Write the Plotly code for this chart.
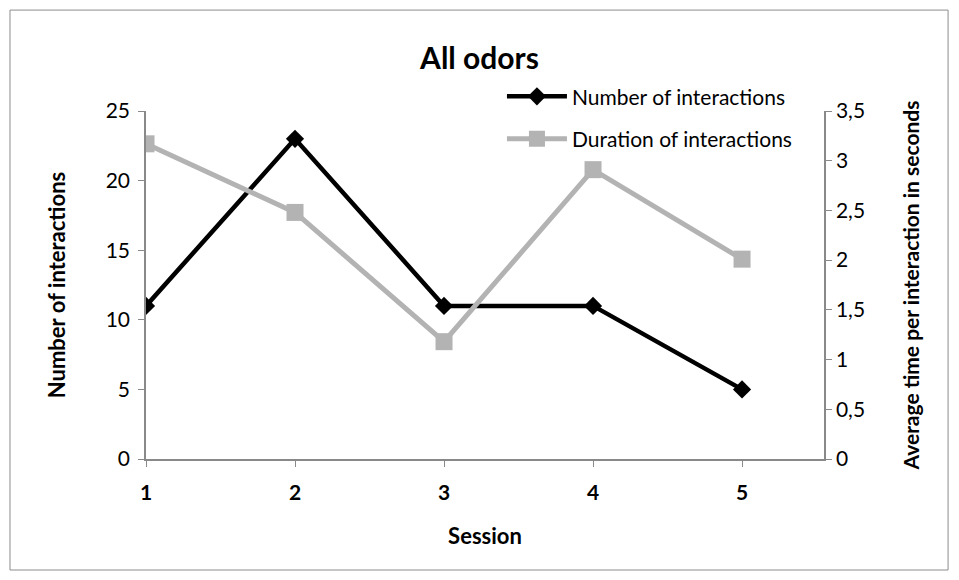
import plotly.graph_objects as go

sessions = [1, 2, 3, 4, 5]
num_interactions = [11, 23, 11, 11, 5]
duration_interactions = [3.17, 2.48, 1.18, 2.91, 2.01]
left_ticks = [0, 5, 10, 15, 20, 25]
right_ticks = [0, 0.5, 1, 1.5, 2, 2.5, 3, 3.5]

FONT = "Lato"
AX = "#898989"

fig = go.Figure()
fig.add_trace(go.Scatter(
    x=sessions, y=num_interactions, name="Number of interactions",
    mode="lines+markers", yaxis="y", legendgroup="a",
    line=dict(color="#000000", width=4.5),
    marker=dict(symbol="diamond", size=14, color="#000000"),
))
fig.add_trace(go.Scatter(
    x=sessions, y=duration_interactions, name="Duration of interactions",
    mode="lines+markers", yaxis="y2", legendgroup="b",
    line=dict(color="#B3B3B3", width=5),
    marker=dict(symbol="square", size=17, color="#B3B3B3"),
))

fig.update_layout(
    width=959, height=580,
    margin=dict(l=146, r=135, t=111, b=121),
    paper_bgcolor="white", plot_bgcolor="white",
    separators=",.",
    font=dict(family=FONT, size=21, color="#000000"),
    title=dict(text="<b>All odors</b>", x=0.5, xanchor="center", y=0.9, yanchor="middle",
               font=dict(family=FONT, size=30, color="#000000")),
    showlegend=True,
    legend=dict(x=0.525, y=1.1, xanchor="left", yanchor="top", bgcolor="rgba(0,0,0,0)",
                traceorder="grouped", tracegroupgap=12, itemwidth=60,
                font=dict(family=FONT, size=21, color="#000000")),
    xaxis=dict(
        range=[1, 5.55], tickvals=sessions, ticktext=[f"<b>{s}</b>" for s in sessions],
        showgrid=False, zeroline=False, showline=True, linecolor=AX, linewidth=1.5,
        ticks="outside", ticklen=6, tickcolor=AX, tickfont=dict(size=21),
        ticklabelstandoff=8,
        title=dict(text="<b>Session</b>", font=dict(size=22), standoff=26),
    ),
    yaxis=dict(
        range=[0, 25], tickvals=left_ticks,
        showgrid=False, zeroline=False, showline=True, linecolor=AX, linewidth=1.5,
        ticks="outside", ticklen=6, tickcolor=AX, tickfont=dict(size=21),
        ticklabelstandoff=4,
        title=dict(text="<b>Number of interactions</b>", font=dict(size=22), standoff=34),
    ),
    yaxis2=dict(
        range=[0, 3.5], tickvals=right_ticks, overlaying="y", side="right",
        showgrid=False, zeroline=False, showline=True, linecolor=AX, linewidth=1.5,
        ticks="outside", ticklen=6, tickcolor=AX, tickfont=dict(size=21),
        title=dict(text="<b>Average time per interaction in seconds</b>", font=dict(size=21), standoff=40),
    ),
    shapes=[dict(type="rect", xref="paper", yref="paper",
                 x0=-0.2006, x1=1.183, y0=-0.319, y1=1.290,
                 line=dict(color="#8C8C8C", width=1), fillcolor="rgba(0,0,0,0)", layer="below")],
)

fig.write_html("out.html", config={"displayModeBar": False},
               post_script="document.body.style.margin='0';document.body.style.overflow='hidden';")
